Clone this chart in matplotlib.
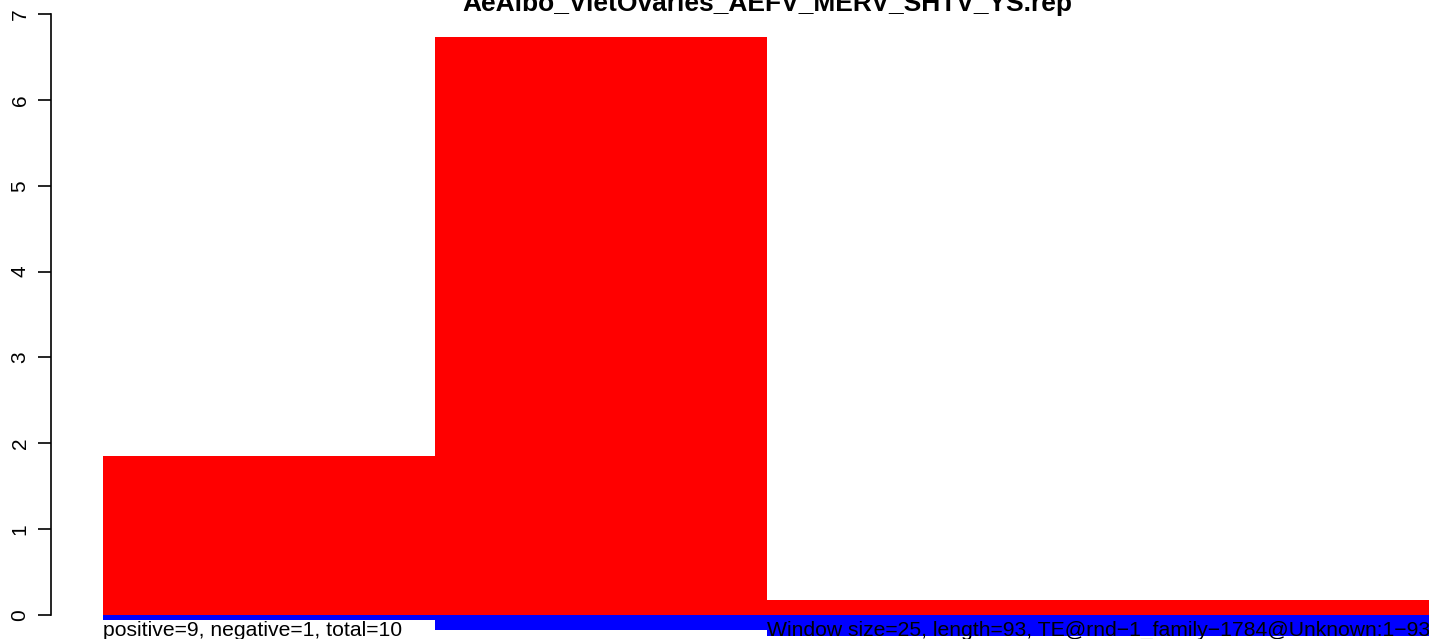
import matplotlib
matplotlib.use("Agg")
import matplotlib.pyplot as plt

# данные по окнам (window size = 25, length = 93)
windows = [0, 1, 2, 3]
positive = [1.85, 6.73, 0.17, 0.17]
negative = [-0.06, -0.18, -0.24, -0.24]
yticks = [0, 1, 2, 3, 4, 5, 6, 7]

title = "AeAlbo_VietOvaries_AEFV_MERV_SHTV_YS.rep"
left_note = "positive=9, negative=1, total=10"
right_note = "Window size=25, length=93, TE@rnd\u22121_family\u22121784@Unknown:1\u221293"

plt.rcParams['font.family'] = ['Liberation Sans', 'DejaVu Sans']

fig = plt.figure(figsize=(14.29, 6.39), dpi=100)
ax = fig.add_axes([103 / 1429, -0.0028, 1328 / 1429, 0.9808])

ax.bar(windows, positive, width=1, align='edge', color='#FF0000', linewidth=0)
ax.bar(windows, negative, width=1, align='edge', color='#0000FF', linewidth=0)

ax.set_xlim(0, 4)
ax.set_ylim(-0.3, 7.0)

for s in ['top', 'right', 'bottom']:
    ax.spines[s].set_visible(False)
ax.spines['left'].set_position(('outward', 37.4))
ax.spines['left'].set_bounds(0, 7)
ax.spines['left'].set_linewidth(1.2)
ax.set_xticks([])
ax.set_yticks(yticks)
ax.set_yticklabels([str(t) for t in yticks], rotation=90, va='center', fontsize=15)
ax.tick_params(axis='y', length=9.5, width=1.2, pad=6)

ax.text(0, -0.07, left_note, fontsize=15.2, ha='left', va='top')
ax.text(2, -0.07, right_note, fontsize=15.2, ha='left', va='top', clip_on=False)

fig.text(767 / 1429, 1 - 11 / 639, title, fontsize=19, fontweight='bold',
         ha='center', va='baseline')

fig.savefig("out.png", dpi=100)
